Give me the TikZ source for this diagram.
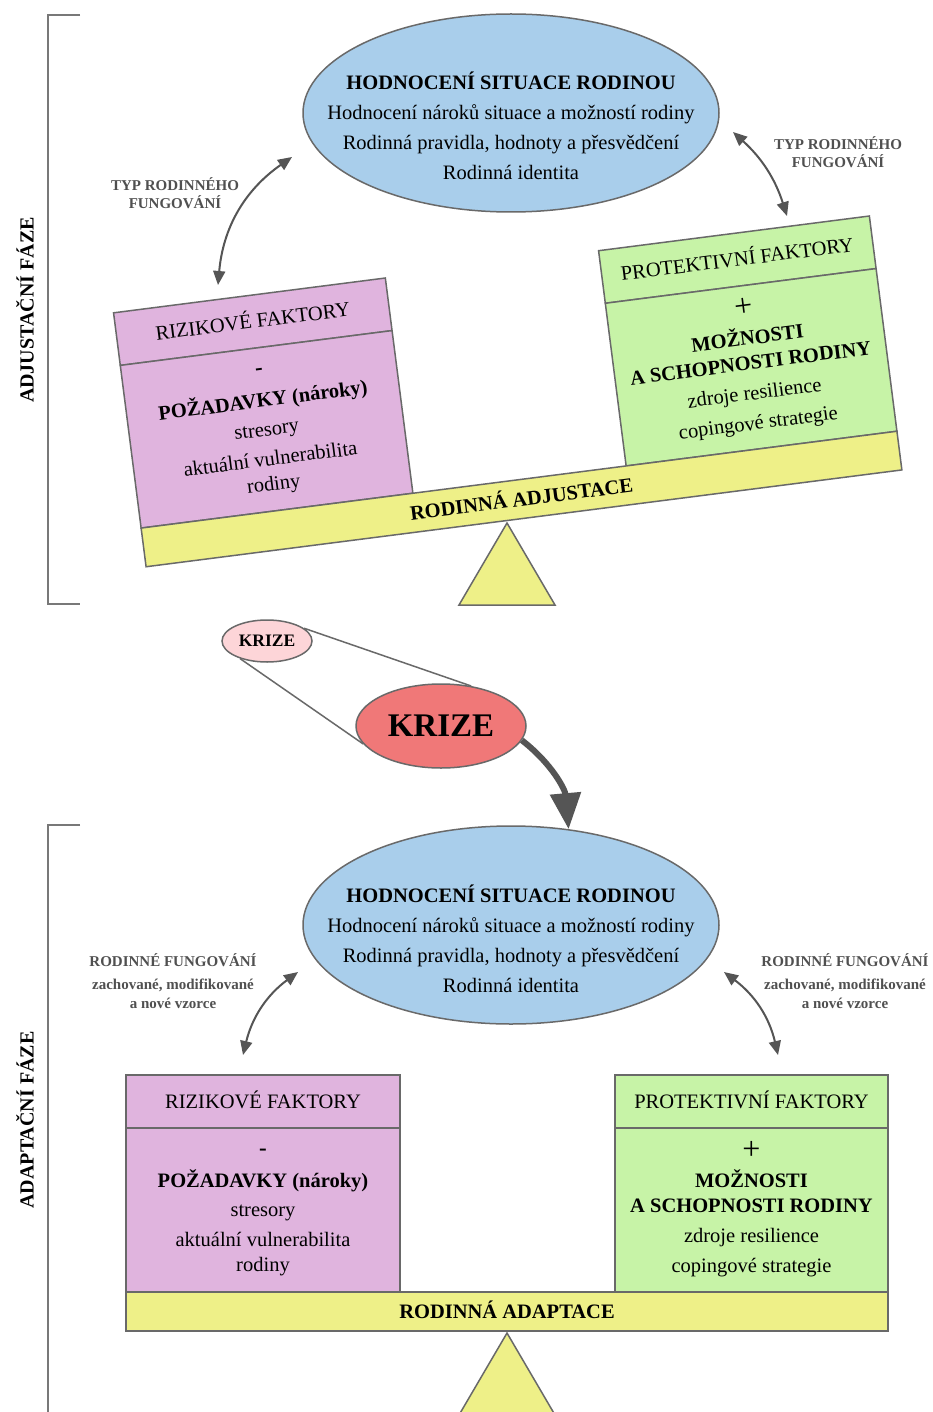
\documentclass[tikz,border=0pt]{standalone}
\usepackage{fontspec}
\setmainfont{Liberation Serif}
\usetikzlibrary{arrows.meta,shapes.geometric}
\definecolor{ellblue}{RGB}{169,206,235}
\definecolor{pinkbox}{RGB}{224,180,222}
\definecolor{greenbox}{RGB}{199,243,167}
\definecolor{yellowbeam}{RGB}{238,240,136}
\definecolor{krizelight}{RGB}{253,213,216}
\definecolor{krizedark}{RGB}{240,120,120}
\definecolor{bordgray}{RGB}{105,105,105}
\definecolor{arrgray}{RGB}{85,85,85}
\definecolor{lblgray}{RGB}{80,80,80}
\definecolor{brgray}{RGB}{120,120,120}
\newcommand\myfs[1]{\fontsize{#1}{#1}\selectfont}
\tikzset{
  bord/.style={draw=bordgray,line width=1.5pt},
  ellnode/.style={ellipse,bord,fill=ellblue,minimum width=416pt,minimum height=198pt,inner sep=0pt},
  txt/.style={anchor=base,inner sep=0pt,font=\myfs{20.5}},
  btxt/.style={anchor=base,inner sep=0pt,font=\myfs{20.5}\bfseries},
  signtxt/.style={anchor=base,inner sep=0pt,font=\myfs{32}},
  lbl/.style={anchor=base,inner sep=0pt,text=lblgray,font=\myfs{15}\bfseries},
  dbl/.style={{Triangle[length=14pt,width=12pt]}-{Triangle[length=14pt,width=12pt]},draw=arrgray,line width=2pt},
  bigarr/.style={-{Triangle[length=36pt,width=30pt]},draw=arrgray,line width=6pt},
  boxr/.style={rectangle,bord,inner sep=0pt,minimum width=274pt},
  phase/.style={rotate=90,font=\myfs{20}\bfseries,inner sep=0pt},
  bracket/.style={draw=brgray,line width=2pt},
  zoomline/.style={draw=bordgray,line width=1.5pt},
}
\newcommand\ellgroup[2]{%
  \node[ellnode] (#1) at (511,#2) {};
  \node[btxt] (#1-t1) at (511,#2-23) {HODNOCENÍ SITUACE RODINOU};
  \node[txt] (#1-t2) at (511,#2+7) {Hodnocení nároků situace a možností rodiny};
  \node[txt] (#1-t3) at (511,#2+37) {Rodinná pravidla, hodnoty a přesvědčení};
  \node[txt] (#1-t4) at (511,#2+67) {Rodinná identita};
}
\newcommand\balgroup[2]{%
  \node[boxr,fill=pinkbox,minimum height=53pt] (#1-lhead) at (-244,-210) {};
  \node[boxr,fill=pinkbox,minimum height=164pt] (#1-lbody) at (-244,-101.5) {};
  \node[boxr,fill=greenbox,minimum height=53pt,minimum width=273pt] (#1-rhead) at (244.5,-210) {};
  \node[boxr,fill=greenbox,minimum height=164pt,minimum width=273pt] (#1-rbody) at (244.5,-101.5) {};
  \node[rectangle,bord,fill=yellowbeam,minimum width=762pt,minimum height=39pt,inner sep=0pt] (#1-beam) at (0,0) {};
  \node[btxt] (#1-beamtxt) at (0,7) {#2};
  \node[txt] (#1-l0) at (-244,-203.5) {RIZIKOVÉ FAKTORY};
  \node[btxt,font=\myfs{23}\bfseries] (#1-l1) at (-244,-156) {-};
  \node[btxt] (#1-l2) at (-244,-124) {POŽADAVKY (nároky)};
  \node[txt] (#1-l3) at (-244,-95) {stresory};
  \node[txt] (#1-l4) at (-244,-65) {aktuální vulnerabilita};
  \node[txt] (#1-l5) at (-244,-40) {rodiny};
  \node[txt] (#1-r0) at (244.5,-203.5) {PROTEKTIVNÍ FAKTORY};
  \node[signtxt] (#1-r1) at (244.5,-152.5) {+};
  \node[btxt] (#1-r2) at (244.5,-124) {MOŽNOSTI};
  \node[btxt] (#1-r3) at (244.5,-99) {A SCHOPNOSTI RODINY};
  \node[txt] (#1-r4) at (244.5,-69) {zdroje resilience};
  \node[txt] (#1-r5) at (244.5,-39) {copingové strategie};
}
\begin{document}
\begin{tikzpicture}[x=1pt,y=-1pt]
\clip (0,0) rectangle (932,1412);
\fill[white] (0,0) rectangle (932,1412);
% brackets and phase labels
\draw[bracket] (80,15) -- (48,15) -- (48,604) -- (80,604);
\draw[bracket] (80,825) -- (48,825) -- (48,1420);
\node[phase] (ph1) at (25,310) {ADJUSTAČNÍ FÁZE};
\node[phase] (ph2) at (25,1120) {ADAPTAČNÍ FÁZE};
% ellipses
\ellgroup{ell1}{113}
\ellgroup{ell2}{925}
% triangles
\draw[bord,fill=yellowbeam] (507,523) -- (459,605) -- (555,605) -- cycle;
\draw[bord,fill=yellowbeam] (507,1333) -- (459,1415) -- (555,1415) -- cycle;
% balances
\begin{scope}[shift={(521.5,499)},rotate=7.3,transform shape]
  \balgroup{top}{RODINNÁ ADJUSTACE}
\end{scope}
\begin{scope}[shift={(507,1311.5)}]
  \balgroup{bot}{RODINNÁ ADAPTACE}
\end{scope}
% top arrows and labels
\coordinate (a1s) at (292,157);
\coordinate (a1e) at (218,285);
\coordinate (a2s) at (733,132);
\coordinate (a2e) at (787,216);
\draw[dbl] (a1s) to[bend right=25] (a1e);
\draw[dbl] (a2s) to[bend left=15] (a2e);
\node[lbl] (lt1) at (175,191) {TYP RODINNÉHO};
\node[lbl] (lt2) at (175,209) {FUNGOVÁNÍ};
\node[lbl] (rt1) at (838,150) {TYP RODINNÉHO};
\node[lbl] (rt2) at (838,168) {FUNGOVÁNÍ};
% bottom arrows and labels
\coordinate (b1s) at (298,972);
\coordinate (b1e) at (243,1055);
\coordinate (b2s) at (724,972);
\coordinate (b2e) at (778,1055);
\draw[dbl] (b1s) to[bend right=20] (b1e);
\draw[dbl] (b2s) to[bend left=20] (b2e);
\node[lbl] (lb1) at (173,966) {RODINNÉ FUNGOVÁNÍ};
\node[lbl] (lb2) at (173,989) {zachované, modifikované};
\node[lbl] (lb3) at (173,1008) {a nové vzorce};
\node[lbl] (rb1) at (845,966) {RODINNÉ FUNGOVÁNÍ};
\node[lbl] (rb2) at (845,989) {zachované, modifikované};
\node[lbl] (rb3) at (845,1008) {a nové vzorce};
% krize
\node[ellipse,bord,fill=krizelight,minimum width=90pt,minimum height=42pt,inner sep=0pt,font=\myfs{17.5}\bfseries] (ks) at (267,641) {KRIZE};
\node[ellipse,bord,fill=krizedark,minimum width=170pt,minimum height=84pt,inner sep=0pt,font=\myfs{33}\bfseries] (kb) at (441,726) {KRIZE};
\draw[zoomline] (ks.19) -- (kb.53);
\draw[zoomline] (ks.213) -- (kb.193);
\draw[bigarr] (kb.-10) to[out=-38,in=95] (ell2.59);
\end{tikzpicture}
\end{document}
